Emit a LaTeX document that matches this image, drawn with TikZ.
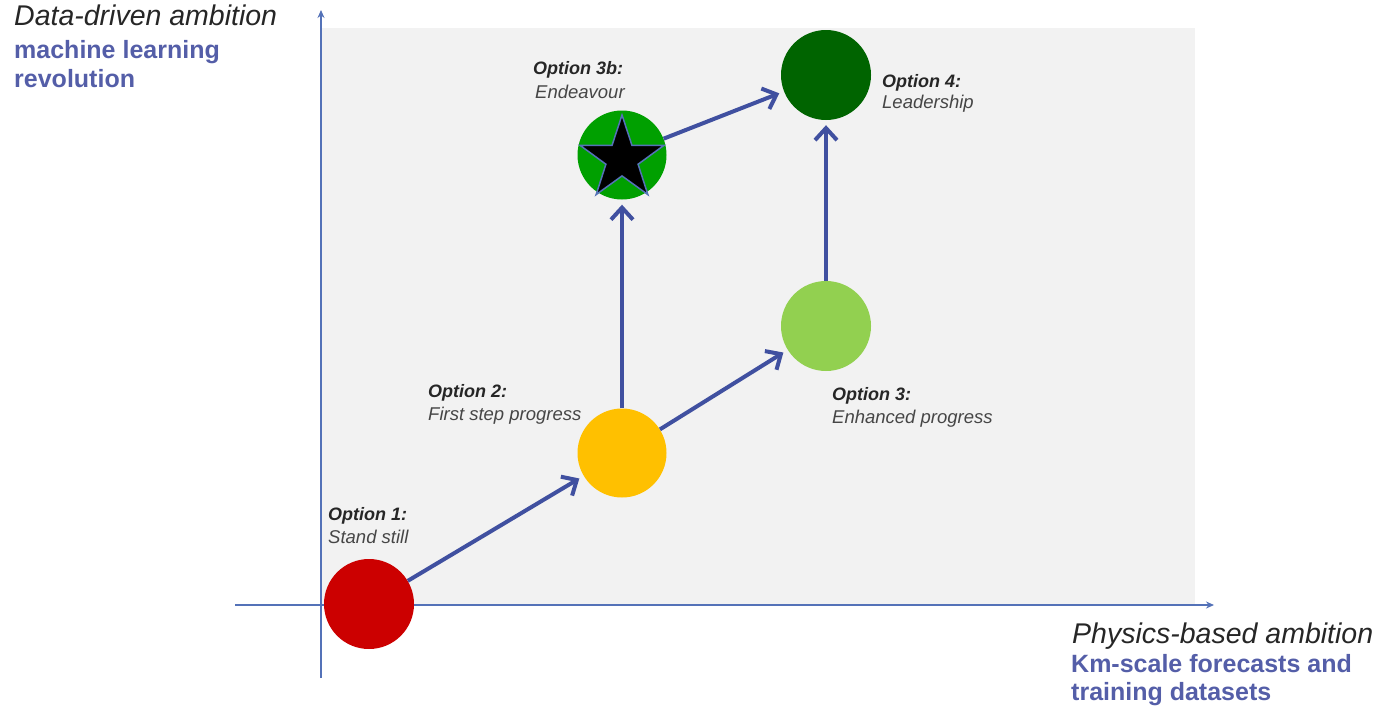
\documentclass[tikz,border=0pt]{standalone}
\usepackage{fontspec}
\setmainfont{Liberation Sans}
\usetikzlibrary{arrows.meta,shapes.geometric}
\definecolor{bgray}{RGB}{242,242,242}
\definecolor{axisblue}{RGB}{84,114,184}
\definecolor{arrblue}{RGB}{64,80,160}
\definecolor{txtblue}{RGB}{84,94,168}
\definecolor{txtgray}{RGB}{70,70,70}
\definecolor{cred}{RGB}{204,0,0}
\definecolor{cyellow}{RGB}{255,192,0}
\definecolor{clight}{RGB}{146,208,80}
\definecolor{cgreen}{RGB}{0,160,0}
\definecolor{cdark}{RGB}{0,100,0}
\tikzset{
  x=1pt,y=-1pt,
  opt/.style={circle,minimum size=90pt,inner sep=0pt},
  axisline/.style={draw=axisblue,line width=2.5pt,-{Stealth[length=8pt,width=7pt]}},
  arr/.style={draw=arrblue,line width=4pt,-{Straight Barb[length=12pt,width=22pt,line width=4pt]},shorten >=5pt},
  head/.style={font=\fontsize{18}{20}\selectfont\bfseries\itshape,text=black!85,anchor=base west,inner sep=0pt},
  sub/.style={font=\fontsize{18.5}{20}\selectfont\itshape,text=txtgray,anchor=base west,inner sep=0pt},
  axtitle/.style={font=\fontsize{28.5}{30}\selectfont\itshape,text=black!85,anchor=base west,inner sep=0pt},
  axsub/.style={font=\fontsize{25}{28}\selectfont\bfseries,text=txtblue,anchor=base west,inner sep=0pt}
}
\begin{document}
\begin{tikzpicture}
\useasboundingbox (0,0) rectangle (1375,712);
\fill[bgray] (322,28) rectangle (1195,605);
% axes
\coordinate (yb) at (321,678);
\coordinate (yt) at (321,10);
\coordinate (xl) at (235,605);
\coordinate (xr) at (1214,605);
\draw[axisline] (yb) -- (yt);
\draw[axisline] (xl) -- (xr);
% option circles
\node[opt,fill=cred] (o1) at (369,604) {};
\node[opt,fill=cyellow,minimum size=89pt] (o2) at (622,453) {};
\node[opt,fill=clight] (o3) at (826,326) {};
\node[opt,fill=cgreen,minimum size=89pt] (o3b) at (622,155) {};
\node[opt,fill=cdark] (o4) at (826,75) {};
\node[star,star points=5,star point ratio=2.6,minimum size=88pt,inner sep=0pt,fill=black,draw=axisblue,line width=1.5pt] (st) at (622,159) {};
% connectors
\draw[arr] (o1) -- (o2);
\draw[arr] (o2) -- (o3);
\draw[arr] (o2) -- (o3b);
\draw[arr] (o3b) -- (o4);
\draw[arr] (o3) -- (o4);
% labels
\node[head] (h1) at (328,520) {Option 1:};
\node[sub] (s1) at (328,543) {Stand still};
\node[head] (h2) at (428,397) {Option 2:};
\node[sub] (s2) at (428,420) {First step progress};
\node[head] (h3) at (832,400) {Option 3:};
\node[sub] (s3) at (832,423) {Enhanced progress};
\node[head] (h3b) at (533,74) {Option 3b:};
\node[sub] (s3b) at (535,98) {Endeavour};
\node[head] (h4) at (882,87) {Option 4:};
\node[sub] (s4) at (882,108) {Leadership};
% axis titles
\node[axtitle] (ty) at (14,25) {Data-driven ambition};
\node[axsub] (tys1) at (14,58) {machine learning};
\node[axsub] (tys2) at (14,87) {revolution};
\node[axtitle] (tx) at (1072,643) {Physics-based ambition};
\node[axsub] (txs1) at (1071,672) {Km-scale forecasts and};
\node[axsub] (txs2) at (1071,700) {training datasets};
\end{tikzpicture}
\end{document}
